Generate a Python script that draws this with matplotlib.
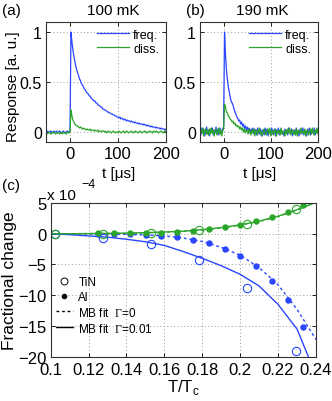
import numpy as np
import matplotlib
matplotlib.use("Agg")
import matplotlib.pyplot as plt

plt.rcParams['font.family'] = ['Liberation Sans', 'DejaVu Sans']
plt.rcParams['mathtext.fontset'] = 'custom'
plt.rcParams['mathtext.rm'] = 'Liberation Serif'

BLUE = '#2a46ff'
GREEN = '#2aa52a'

# time axis of the transients, us
t = np.arange(-50, 201, 2)

# (a) 100 mK
a_freq = [0.01, 0.00, 0.01, -0.01, 0.00, 0.01, 0.00, -0.01, 0.01, 0.00,
          0.00, 0.01, -0.01, 0.00, 0.01, 0.00, -0.01, 0.00, 0.01, 0.00,
          -0.01, 0.00, 0.01, 0.00, 0.00, 0.02, 1.00, 0.90, 0.82, 0.76,
          0.71, 0.66, 0.62, 0.59, 0.56, 0.53, 0.51, 0.48, 0.47, 0.45,
          0.43, 0.42, 0.40, 0.39, 0.38, 0.36, 0.36, 0.34, 0.33, 0.32,
          0.31, 0.31, 0.29, 0.29, 0.27, 0.27, 0.26, 0.25, 0.25, 0.23,
          0.23, 0.22, 0.22, 0.21, 0.20, 0.20, 0.19, 0.19, 0.18, 0.18,
          0.17, 0.17, 0.16, 0.16, 0.15, 0.15, 0.14, 0.15, 0.13, 0.14,
          0.13, 0.12, 0.13, 0.12, 0.11, 0.12, 0.11, 0.11, 0.10, 0.11,
          0.10, 0.10, 0.09, 0.10, 0.09, 0.09, 0.08, 0.09, 0.08, 0.08,
          0.08, 0.07, 0.08, 0.07, 0.07, 0.06, 0.07, 0.06, 0.06, 0.05,
          0.06, 0.05, 0.05, 0.05, 0.04, 0.05, 0.04, 0.04, 0.04, 0.03,
          0.04, 0.03, 0.03, 0.03, 0.02, 0.03]
a_diss = [-0.01, -0.02, -0.01, 0.00, -0.01, -0.02, -0.01, -0.01, 0.00, -0.01,
          -0.02, -0.01, -0.01, 0.00, -0.02, -0.01, -0.01, -0.02, 0.00, -0.01,
          -0.01, -0.02, -0.01, 0.00, -0.01, 0.00, 0.22, 0.16, 0.12, 0.10,
          0.08, 0.07, 0.06, 0.06, 0.05, 0.04, 0.05, 0.04, 0.03, 0.04,
          0.03, 0.03, 0.02, 0.03, 0.02, 0.02, 0.03, 0.01, 0.02, 0.02,
          0.01, 0.02, 0.01, 0.01, 0.02, 0.00, 0.01, 0.01, 0.00, 0.01,
          0.01, 0.00, 0.01, -0.01, 0.00, 0.01, 0.00, 0.00, -0.01, 0.00,
          0.01, 0.00, -0.01, 0.00, 0.00, -0.01, 0.01, 0.00, -0.01, 0.00,
          0.00, 0.01, -0.01, 0.00, 0.01, 0.00, -0.01, 0.00, 0.00, 0.01,
          0.00, -0.01, 0.00, 0.01, 0.00, 0.00, -0.01, 0.00, 0.01, 0.00,
          -0.01, 0.00, 0.00, 0.01, 0.00, -0.01, 0.00, 0.00, 0.01, 0.00,
          0.00, -0.01, 0.01, 0.00, 0.00, 0.01, 0.00, -0.01, 0.00, 0.00,
          0.01, 0.00, -0.01, 0.00, 0.01, 0.00]

# (b) 190 mK
b_freq = [0.02, -0.03, 0.04, -0.01, 0.03, -0.04, 0.01, 0.05, -0.02, 0.02,
          -0.04, 0.03, 0.00, 0.04, -0.03, 0.02, -0.01, 0.05, -0.02, 0.03,
          -0.03, 0.04, 0.01, -0.02, 0.03, 0.05, 1.00, 0.78, 0.62, 0.53,
          0.45, 0.40, 0.35, 0.31, 0.29, 0.27, 0.23, 0.20, 0.18, 0.15,
          0.14, 0.11, 0.12, 0.08, 0.10, 0.06, 0.08, 0.04, 0.06, 0.02,
          0.05, 0.01, 0.04, -0.01, 0.03, 0.00, 0.04, -0.02, 0.03, 0.01,
          -0.03, 0.04, 0.00, -0.02, 0.03, -0.04, 0.02, 0.01, -0.03, 0.04,
          -0.01, 0.03, -0.04, 0.02, 0.00, -0.03, 0.04, -0.02, 0.01, 0.03,
          -0.04, 0.02, -0.01, 0.04, -0.03, 0.01, 0.03, -0.02, 0.00, -0.04,
          0.03, -0.01, 0.02, -0.03, 0.04, 0.00, -0.02, 0.03, -0.04, 0.01,
          0.02, -0.03, 0.04, -0.01, 0.00, -0.04, 0.03, 0.01, -0.02, 0.04,
          -0.03, 0.02, 0.00, -0.04, 0.03, -0.01, 0.04, -0.03, 0.01, 0.02,
          -0.02, 0.04, -0.03, 0.01, 0.03, -0.01]
b_diss = [-0.03, 0.02, -0.01, 0.04, -0.04, 0.01, 0.03, -0.02, 0.02, -0.03,
          0.03, -0.02, 0.04, -0.01, 0.02, -0.04, 0.01, 0.03, -0.03, 0.00,
          0.04, -0.02, 0.02, -0.04, 0.01, 0.03, 0.28, 0.25, 0.20, 0.19,
          0.16, 0.15, 0.13, 0.12, 0.10, 0.11, 0.08, 0.09, 0.06, 0.07,
          0.05, 0.06, 0.03, 0.05, 0.02, 0.04, 0.00, 0.03, -0.01, 0.02,
          0.01, -0.02, 0.03, 0.00, -0.03, 0.02, -0.01, 0.03, -0.04, 0.01,
          0.02, -0.03, 0.01, 0.04, -0.02, 0.00, -0.04, 0.02, 0.03, -0.01,
          -0.03, 0.01, 0.03, -0.02, 0.04, -0.04, 0.00, 0.02, -0.03, 0.01,
          0.03, -0.04, 0.01, -0.01, 0.02, -0.03, 0.04, -0.02, 0.01, 0.00,
          -0.04, 0.02, -0.02, 0.03, -0.01, 0.04, -0.03, 0.00, 0.02, -0.02,
          0.01, -0.03, 0.03, -0.04, 0.02, 0.00, -0.02, 0.04, -0.01, 0.01,
          -0.02, 0.03, -0.04, 0.01, 0.02, -0.03, 0.00, 0.03, -0.02, 0.04,
          0.00, -0.03, 0.02, -0.01, 0.04, -0.02]

# (c) fractional change, units of 1e-4
tin_T = [0.1023, 0.1276, 0.1530, 0.1784, 0.2038, 0.2294]
tin_freq = [0.0, -0.75, -1.7, -4.2, -8.8, -19.1]
tin_diss = [0.0, 0.0, 0.2, 0.65, 1.6, 4.0]
al_T = [0.1248, 0.1332, 0.1417, 0.1501, 0.1584, 0.1668, 0.1752,
        0.1835, 0.1918, 0.2001, 0.2083, 0.2168, 0.2250, 0.2333]
al_freq = [0.0, 0.0, -0.1, -0.2, -0.3, -0.6, -1.0,
           -1.5, -2.4, -3.6, -5.3, -7.7, -10.8, -15.1]
al_diss = [0.1, 0.1, 0.1, 0.2, 0.2, 0.3, 0.5,
           0.7, 1.1, 1.5, 2.0, 2.7, 3.5, 4.7]
fit_T = [0.10, 0.11, 0.12, 0.13, 0.14, 0.15, 0.16, 0.17,
         0.18, 0.19, 0.20, 0.21, 0.22, 0.23, 0.24]
fit0_freq = [0, 0, -0.02, -0.05, -0.1, -0.2, -0.35, -0.7,
             -1.25, -2.2, -3.5, -5.5, -8.3, -12.3, -17.2]
fit0_diss = [0, 0, 0.02, 0.05, 0.08, 0.15, 0.25, 0.4,
             0.62, 0.95, 1.4, 2.0, 2.8, 3.9, 5.2]
fitG_freq = [0, -0.15, -0.35, -0.55, -0.9, -1.3, -1.9, -2.9,
             -4.0, -5.2, -6.6, -8.5, -11.5, -15.5, -23.0]
fitG_diss = [0, 0, 0.03, 0.06, 0.1, 0.18, 0.28, 0.42,
             0.65, 1.0, 1.45, 2.05, 2.85, 3.9, 5.1]

fig = plt.figure(figsize=(3.32, 4.02), dpi=100)
ax_a = fig.add_axes([0.1386, 0.6443, 0.3614, 0.2985])
ax_b = fig.add_axes([0.6024, 0.6443, 0.3554, 0.2985])
ax_c = fig.add_axes([0.1527, 0.1102, 0.7990, 0.3823])


def style(ax, size):
    ax.grid(True, color='#9a9a9a', linestyle=(0, (1, 2.5)), linewidth=0.7)
    ax.tick_params(direction='in', length=3, width=0.6, labelsize=size,
                   top=True, right=True, pad=3)
    for s in ax.spines.values():
        s.set_linewidth(0.8)
        s.set_color('#333333')


for ax, fr, di in [(ax_a, a_freq, a_diss), (ax_b, b_freq, b_diss)]:
    ax.plot(t, fr, color=BLUE, lw=0.9, label='freq.')
    ax.plot(t, di, color=GREEN, lw=0.9, label='diss.')
    ax.set_xlim(-50, 200)
    ax.set_ylim(-0.1, 1.1)
    ax.set_xticks([0, 100, 200])
    ax.set_yticks([0, 0.5, 1])
    ax.set_yticklabels(['0', '0.5', '1'])
    style(ax, 12)
    ax.tick_params(axis='y', labelsize=11.5)
    ax.legend(loc='upper right', frameon=False, fontsize=9, handlelength=2.6,
              handletextpad=0.3, borderaxespad=0.15, labelspacing=0.15)

ax_a.set_ylabel('Response [a. u.]', fontsize=11)
ax_a.yaxis.set_label_coords(-0.215, 0.47)
fig.text(0.358, 0.568, 't [μs]', fontsize=11, ha='center', va='center')
fig.text(0.783, 0.568, 't [μs]', fontsize=11, ha='center', va='center')
fig.text(0.006, 0.972, '(a)', fontsize=11, ha='left', va='center')
fig.text(0.340, 0.972, '100 mK', fontsize=11, ha='center', va='center')
fig.text(0.560, 0.972, '(b)', fontsize=11, ha='left', va='center')
fig.text(0.790, 0.972, '190 mK', fontsize=11, ha='center', va='center')
fig.text(0.006, 0.538, '(c)', fontsize=11, ha='left', va='center')

# (c)
ax_c.plot(fit_T, fit0_freq, color=BLUE, lw=1.0, linestyle=(0, (2, 2)))
ax_c.plot(fit_T, fit0_diss, color=GREEN, lw=1.0, linestyle=(0, (2, 2)))
ax_c.plot(fit_T, fitG_freq, color=BLUE, lw=1.0)
ax_c.plot(fit_T, fitG_diss, color=GREEN, lw=1.0)
ax_c.plot(tin_T, tin_freq, 'o', ms=6, mfc='none', mec=BLUE, mew=0.8)
ax_c.plot(tin_T, tin_diss, 'o', ms=6, mfc='none', mec=GREEN, mew=0.8)
ax_c.plot(al_T, al_freq, 'o', ms=3.6, color=BLUE)
ax_c.plot(al_T, al_diss, 'o', ms=3.6, color=GREEN)
ax_c.set_xlim(0.1, 0.24)
ax_c.set_ylim(-20, 5)
ax_c.set_xticks([0.1, 0.12, 0.14, 0.16, 0.18, 0.2, 0.22, 0.24])
ax_c.set_xticklabels(['0.1', '0.12', '0.14', '0.16', '0.18', '0.2', '0.22', '0.24'])
ax_c.set_yticks([-20, -15, -10, -5, 0, 5])
ax_c.set_yticklabels(['\u221220', '\u221215', '\u221210', '\u22125', '0', '5'])
style(ax_c, 12)
ax_c.tick_params(axis='x', pad=4)
ax_c.set_ylabel('Fractional change', fontsize=12.5)
ax_c.yaxis.set_label_coords(-0.128, 0.5)
ax_c.set_xlabel('T/T$_\\mathregular{c}$', fontsize=12, labelpad=0)
fig.text(0.142, 0.512, 'x 10', fontsize=11, ha='left', va='center')
fig.text(0.245, 0.541, '\u22124', fontsize=9, ha='left', va='center')

h = [plt.Line2D([], [], ls='none', marker='o', ms=5, mfc='none', mec='k', mew=0.7),
     plt.Line2D([], [], ls='none', marker='o', ms=3, color='k'),
     plt.Line2D([], [], color='k', lw=1.0, linestyle=(0, (2, 2))),
     plt.Line2D([], [], color='k', lw=1.0)]
lab = ['TiN', 'Al', 'MB fit  $\\mathrm{\\Gamma}$=0', 'MB fit  $\\mathrm{\\Gamma}$=0.01']
ax_c.legend(h, lab, loc='upper left', bbox_to_anchor=(0.02, 0.527), frameon=False,
            fontsize=8.5, handlelength=1.4, handletextpad=0.5,
            labelspacing=0.25, borderpad=0, borderaxespad=0)

fig.savefig('out.png', dpi=100)
